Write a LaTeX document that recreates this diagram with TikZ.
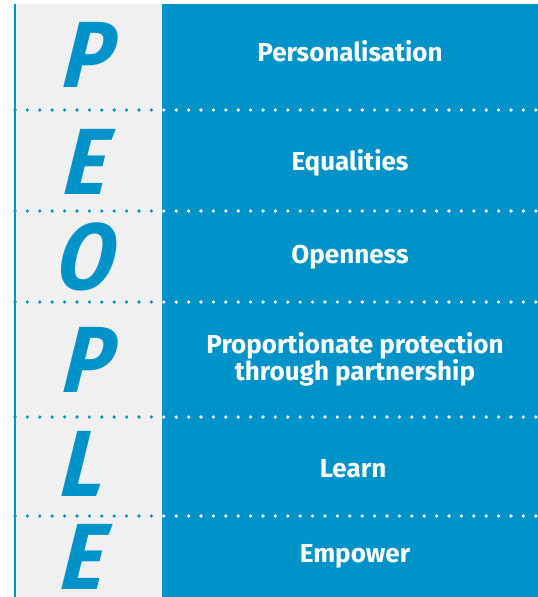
\documentclass[tikz,border=0pt]{standalone}
\usepackage{fontspec}
\setmainfont{Fira Sans}
\newfontfamily\letterfont{Fira Sans}
\definecolor{pblue}{RGB}{0,147,201}
\definecolor{pgrey}{RGB}{240,240,240}
\tikzset{
  bigletter/.style={text=pblue, font=\letterfont\bfseries\itshape\fontsize{94}{94}\selectfont, inner sep=0pt, xslant=0.12, xscale=0.9},
  rowlabel/.style={text=white, font=\bfseries\fontsize{26}{27}\selectfont, align=center, inner sep=0pt},
  bluedot/.style={fill=pblue, draw=none},
  whitedot/.style={fill=white, draw=none}
}
\begin{document}
\begin{tikzpicture}[x=1pt,y=-1pt]
\useasboundingbox (0,0) rectangle (538,597);
\clip (0,0) rectangle (538,597);
% panels
\fill[pgrey] (16,4) rectangle (162,597);
\fill[pblue] (162,4) rectangle (538,597);
\fill[pblue] (14,4) rectangle (16,597);
% dotted separators
\foreach \yy in {110,211,302,417,516}{
  \foreach \i in {0,...,11}{\fill[bluedot] (15+12.4*\i,\yy) circle (1.8);}
  \foreach \i in {12,...,42}{\fill[whitedot] (15+12.4*\i,\yy) circle (1.8);}
}
% letters
\node[bigletter] (l1) at (90,55) {P};
\node[bigletter] (l2) at (88,162) {E};
\node[bigletter] (l3) at (88,257) {O};
\node[bigletter] (l4) at (90,360) {P};
\node[bigletter] (l5) at (85,464) {L};
\node[bigletter] (l6) at (85,557) {E};
% labels
\node[rowlabel] (t1) at (350,51) {Personalisation};
\node[rowlabel] (t2) at (350,163) {Equalities};
\node[rowlabel] (t3) at (350,257) {Openness};
\node[rowlabel] (t4) at (355,359) {Proportionate protection\\through partnership};
\node[rowlabel] (t5) at (353,469) {Learn};
\node[rowlabel] (t6) at (355,556) {Empower};
\end{tikzpicture}
\end{document}
